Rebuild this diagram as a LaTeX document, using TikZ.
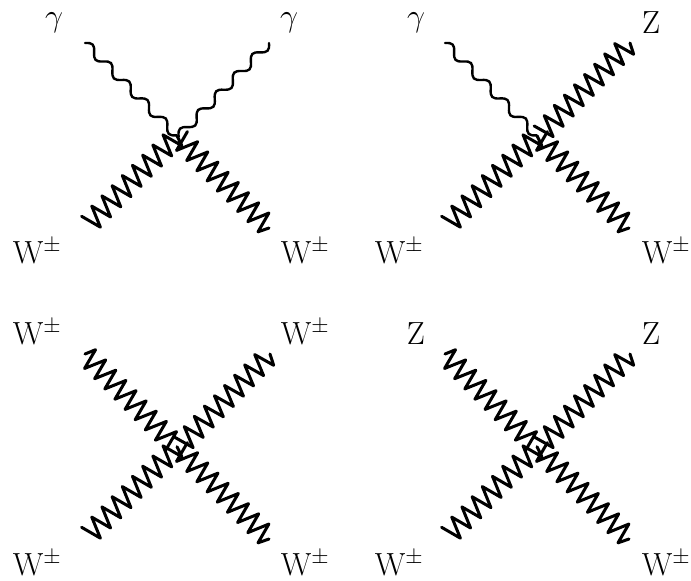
\documentclass[tikz,border=0pt]{standalone}
\usetikzlibrary{decorations}
\DeclareMathSizes{24.88}{24.88}{17.28}{12}
\pgfdeclaredecoration{skewzig}{first}{
 \state{first}[width=0pt,next state=toR]{\pgfpathmoveto{\pgfpoint{0pt}{10.5pt}}}
 \state{toR}[width=5.6pt,next state=toL]{\pgfpathlineto{\pgfpoint{5.6pt}{-10.5pt}}}
 \state{toL}[width=8.8pt,next state=toR,switch if less than=8.8pt to last]{\pgfpathlineto{\pgfpoint{8.8pt}{10.5pt}}}
 \state{last}[width=\pgfdecoratedremainingdistance,next state=final]{}
 \state{final}{\pgfpathlineto{\pgfpointdecoratedpathlast}}
}
\pgfdeclaredecoration{softwave}{up}{
 \state{up}[width=13pt,next state=down,switch if less than=13pt to final]{\pgfpathcurveto{\pgfpoint{5.2pt}{5.8pt}}{\pgfpoint{7.8pt}{5.8pt}}{\pgfpoint{13pt}{0pt}}}
 \state{down}[width=13pt,next state=up,switch if less than=13pt to final]{\pgfpathcurveto{\pgfpoint{5.2pt}{-5.8pt}}{\pgfpoint{7.8pt}{-5.8pt}}{\pgfpoint{13pt}{0pt}}}
 \state{final}{\pgfpathlineto{\pgfpointdecoratedpathlast}}
}
\tikzset{
 wboson/.style={line width=3pt,line join=round,line cap=round,decorate,decoration={skewzig}},
 photon/.style={line width=2.4pt,line cap=round,decorate,decoration={softwave}},
 lab/.style={font=\fontsize{24.88pt}{30pt}\selectfont,scale=1.286,anchor=base,inner sep=0pt},
 ll/.style={shift={(-1,-1.3)}},
 lr/.style={shift={(2,2)}},
 ur/.style={shift={(3.7,-3.7)}},
 ul/.style={shift={(-5,-5)}},
}
\begin{document}
\begin{tikzpicture}[x=1pt,y=-1pt]
\useasboundingbox (0,0) rectangle (691,581);
% panel 1
\coordinate (v1) at (178,137);
\coordinate (a1) at (85,43); \coordinate (b1) at (269,43);
\coordinate (c1) at (89,223.7); \coordinate (d1) at (269,228);
\draw[photon] (a1) -- (v1);
\draw[photon] (b1) -- (v1);
\draw[wboson] (c1) -- ([ll]v1);
\draw[wboson] ([lr]v1) -- (d1);
% panel 2
\coordinate (v2) at (538,137);
\coordinate (a2) at (445,43); \coordinate (b2) at (630,43);
\coordinate (c2) at (449,223.7); \coordinate (d2) at (629,228);
\draw[photon] (a2) -- (v2);
\draw[wboson] ([ur]v2) -- (b2);
\draw[wboson] (c2) -- ([ll]v2);
\draw[wboson] ([lr]v2) -- (d2);
% panel 3
\coordinate (v3) at (178,448);
\coordinate (a3) at (85,354); \coordinate (b3) at (270,354);
\coordinate (c3) at (89,534.7); \coordinate (d3) at (269,539);
\draw[wboson] ([ul]v3) -- (a3);
\draw[wboson] ([ur]v3) -- (b3);
\draw[wboson] (c3) -- ([ll]v3);
\draw[wboson] ([lr]v3) -- (d3);
% panel 4
\coordinate (v4) at (538,448);
\coordinate (a4) at (445,354); \coordinate (b4) at (630,354);
\coordinate (c4) at (449,534.7); \coordinate (d4) at (629,539);
\draw[wboson] ([ul]v4) -- (a4);
\draw[wboson] ([ur]v4) -- (b4);
\draw[wboson] (c4) -- ([ll]v4);
\draw[wboson] ([lr]v4) -- (d4);
% labels
\node[lab] (l1) at (54,26) {$\gamma$};
\node[lab] (l2) at (289,26) {$\gamma$};
\node[lab] (l3) at (37,263) {W$^\pm$};
\node[lab] (l4) at (305,263) {W$^\pm$};
\node[lab] (l5) at (416,26) {$\gamma$};
\node[lab] (l6) at (651,33) {Z};
\node[lab] (l7) at (399,263) {W$^\pm$};
\node[lab] (l8) at (666,263) {W$^\pm$};
\node[lab] (l9) at (37,344) {W$^\pm$};
\node[lab] (l10) at (305,344) {W$^\pm$};
\node[lab] (l11) at (37,575) {W$^\pm$};
\node[lab] (l12) at (305,575) {W$^\pm$};
\node[lab] (l13) at (416,344) {Z};
\node[lab] (l14) at (651,344) {Z};
\node[lab] (l15) at (399,575) {W$^\pm$};
\node[lab] (l16) at (666,575) {W$^\pm$};
\end{tikzpicture}
\end{document}
